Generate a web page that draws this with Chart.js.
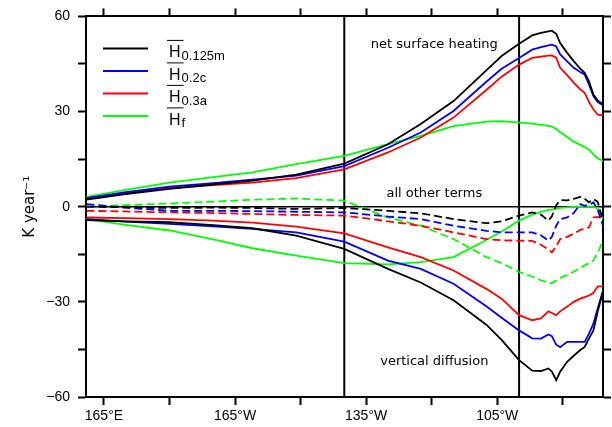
<!DOCTYPE html>
<html>
<head>
<meta charset="UTF-8">
<title>Equatorial heat budget terms</title>
<script src="https://cdn.jsdelivr.net/npm/chart.js"></script>
<style>
  body { margin: 0; background: #fff; }
</style>
</head>
<body>
<canvas id="budgetChart" width="612" height="427"></canvas>
<script>
// longitude, degrees east (0-360)
const lon = [161, 170, 180, 190, 199, 209, 220, 230, 237.5, 245, 252.5, 256, 260, 263, 265, 266.7, 267.5, 268.5, 269.4, 271, 272.5, 274, 275, 276, 277, 278, 279.2];

// net surface heating (K/yr)
const heatM = [2.2, 4.0, 5.6, 7.0, 8.2, 10.1, 13.6, 19.7, 26.1, 33.3, 43.0, 47.5, 51.4, 54.0, 54.8, 55.3, 55.5, 54.5, 51.6, 48.5, 45.9, 43.5, 42.2, 39.5, 35.4, 33.5, 32.3];
const heatC = [2.7, 4.6, 6.3, 7.4, 8.5, 9.8, 12.8, 18.6, 23.4, 30.2, 39.4, 43.5, 46.9, 49.5, 50.3, 50.9, 51.1, 50.5, 48.0, 45.8, 43.8, 42.5, 41.7, 38.5, 34.9, 33.0, 32.0];
const heatA = [2.7, 4.3, 5.9, 6.8, 7.6, 9.0, 11.8, 17.1, 21.8, 28.1, 36.8, 41.0, 44.8, 46.9, 47.3, 47.6, 47.7, 47.0, 43.8, 41.5, 39.1, 37.0, 35.9, 33.0, 30.7, 29.0, 28.8];
const heatF = [3.1, 5.3, 7.6, 9.3, 10.8, 13.4, 16.0, 19.7, 22.3, 25.4, 26.8, 27.0, 26.5, 26.2, 25.8, 25.5, 25.3, 24.5, 23.5, 22.0, 20.5, 19.5, 18.8, 18.0, 16.5, 15.2, 14.5];

// all other terms (dashed)
const otherM = [0.0, -0.2, -0.4, -0.3, -0.4, -0.7, -0.4, -1.3, -2.1, -3.9, -5.2, -4.6, -2.8, -1.8, -2.5, -4.4, -3.0, 0.5, 2.1, 2.0, 2.5, 3.1, 2.5, 1.4, 2.4, 1.5, -4.4];
const otherC = [0.8, -0.3, -1.3, -1.3, -1.4, -1.6, -1.8, -3.1, -3.9, -6.0, -7.6, -8.1, -8.1, -8.1, -9.0, -10.7, -9.5, -6.0, -3.9, -3.4, -2.0, 0.8, 0.3, 0.5, 1.4, -1.0, -6.0];
const otherA = [-1.3, -1.5, -1.8, -2.0, -2.3, -2.6, -2.8, -4.6, -6.0, -8.1, -10.2, -10.6, -10.7, -10.8, -12.0, -13.5, -14.4, -12.5, -10.2, -9.5, -8.5, -7.3, -7.0, -6.5, -3.4, -3.2, -3.9];
const otherF = [0.0, 0.5, 1.0, 1.6, 2.2, 2.6, 1.9, -3.4, -6.0, -10.2, -15.9, -17.8, -20.6, -22.0, -23.2, -24.0, -24.1, -23.3, -22.5, -21.5, -20.5, -19.3, -18.5, -17.8, -17.0, -14.5, -10.7];

// vertical diffusion
const diffM = [-4.2, -4.6, -4.9, -5.8, -6.8, -9.1, -13.3, -19.6, -23.9, -29.5, -37.2, -42.0, -48.4, -51.7, -51.8, -51.0, -52.0, -54.7, -52.0, -48.9, -47.0, -45.2, -44.2, -41.5, -39.0, -33.0, -26.9];
const diffC = [-3.9, -4.7, -5.4, -6.2, -7.0, -8.1, -11.0, -17.0, -19.6, -24.3, -31.4, -35.0, -39.0, -41.5, -41.6, -40.3, -40.8, -43.5, -44.3, -42.6, -42.6, -42.6, -42.6, -40.0, -36.9, -32.0, -26.4];
const diffA = [-3.4, -3.6, -3.9, -4.4, -5.0, -6.3, -8.4, -12.8, -15.9, -20.1, -25.9, -29.0, -34.2, -35.8, -35.2, -33.0, -33.5, -34.2, -33.0, -31.5, -30.0, -29.0, -28.5, -28.0, -27.2, -25.1, -25.1];
const diffF = [-3.9, -5.7, -7.5, -10.3, -13.1, -15.4, -17.8, -18.2, -17.5, -15.9, -10.5, -7.8, -4.4, -2.5, -1.6, -1.0, -0.9, -0.6, -0.4, -0.2, 0, 0, 0, 0, 0, -0.5, -4.0];

const runSub = ['0.125m', '0.2c', '0.3a', 'f'];
const runColors = ['#000000', '#0000ff', '#ff0000', '#00ff00'];

const xMin = 160.9, xMax = 279.2;
const xTickVals = [165, 180, 195, 210, 225, 240, 255, 270];
const xLabelVals = [165, 195, 225, 255];
const refLon = [220, 260];

const noteText = ['net surface heating', 'all other terms', 'vertical diffusion'];
const noteLon = 240.6;
const noteVal = [51.1, 4.2, -48.9];

function lonLabel(v) {
    return v <= 180 ? v + '°E' : (360 - v) + '°W';
}
function pts(vals) {
    return vals.map((v, i) => ({ x: lon[i], y: v }));
}

const datasets = [];
[[heatM, heatC, heatA, heatF], [otherM, otherC, otherA, otherF], [diffM, diffC, diffA, diffF]].forEach((group, g) => {
    group.forEach((vals, i) => {
        datasets.push({
            data: pts(vals),
            borderColor: runColors[i],
            borderWidth: 1.8,
            borderDash: g === 1 ? [8, 4] : [],
            pointRadius: 0,
            fill: false
        });
    });
});
refLon.forEach(x => {
    datasets.push({ data: [{ x: x, y: -60 }, { x: x, y: 60 }], borderColor: '#000', borderWidth: 2, pointRadius: 0 });
});
datasets.push({ data: [{ x: xMin, y: 0 }, { x: xMax, y: 0 }], borderColor: '#000', borderWidth: 1.5, pointRadius: 0 });

const tickFont = { family: 'Liberation Sans', size: 14 };
const frame = { display: true, color: '#000', width: 2 };
const outTicks = { drawOnChartArea: false, drawTicks: true, tickLength: 8, tickWidth: 2, tickColor: '#000' };

// legend with overlined H and subscripts, plus the text notes
const budgetText = {
    id: 'budgetText',
    afterDraw(chart) {
        const ctx = chart.ctx;
        const area = chart.chartArea;
        ctx.save();
        ctx.textAlign = 'left';
        ctx.textBaseline = 'alphabetic';
        runSub.forEach((sub, i) => {
            const y = area.top + 32 + i * 22.5;
            ctx.strokeStyle = runColors[i];
            ctx.lineWidth = 2;
            ctx.beginPath();
            ctx.moveTo(area.left + 17, y);
            ctx.lineTo(area.left + 62, y);
            ctx.stroke();

            const hx = area.left + 83;
            const base = y + 9;
            ctx.fillStyle = '#000';
            ctx.font = '16px "Liberation Sans"';
            ctx.fillText('H', hx, base);
            const hw = ctx.measureText('H').width;
            ctx.strokeStyle = '#000';
            ctx.lineWidth = 1;
            ctx.beginPath();
            ctx.moveTo(hx - 2, base - 17);
            ctx.lineTo(hx + hw + 3, base - 17);
            ctx.stroke();
            ctx.font = '13px "Liberation Sans"';
            ctx.fillText(sub, hx + hw + 1, base + 2.5);
        });

        const xs = chart.scales.x, ys = chart.scales.y;
        ctx.font = '13px "DejaVu Sans"';
        ctx.textAlign = 'center';
        ctx.textBaseline = 'middle';
        ctx.fillStyle = '#000';
        noteText.forEach((t, i) => {
            ctx.fillText(t, xs.getPixelForValue(noteLon), ys.getPixelForValue(noteVal[i]));
        });
        ctx.restore();
    }
};

new Chart(document.getElementById('budgetChart').getContext('2d'), {
    type: 'line',
    data: { datasets: datasets },
    plugins: [budgetText],
    options: {
        responsive: false,
        animation: false,
        devicePixelRatio: 1,
        layout: { padding: 0 },
        plugins: { legend: { display: false }, tooltip: { enabled: false } },
        scales: {
            x: {
                type: 'linear', position: 'bottom', min: xMin, max: xMax,
                afterBuildTicks: s => { s.ticks = xTickVals.map(v => ({ value: v })); },
                afterFit: s => { s.height = 30; },
                ticks: {
                    autoSkip: false, maxRotation: 0, padding: 3, color: '#000', font: tickFont,
                    callback: v => xLabelVals.includes(v) ? lonLabel(v) : ''
                },
                grid: outTicks,
                border: frame
            },
            xTop: {
                type: 'linear', position: 'top', min: xMin, max: xMax,
                afterBuildTicks: s => { s.ticks = xTickVals.map(v => ({ value: v })); },
                afterFit: s => { s.height = 15; },
                ticks: { display: false },
                grid: outTicks,
                border: frame
            },
            y: {
                type: 'linear', position: 'left', min: -60, max: 60,
                afterFit: s => { s.width = 86; },
                ticks: {
                    stepSize: 15, autoSkip: false, padding: 8, color: '#000', font: tickFont,
                    callback: v => v % 30 === 0 ? String(v).replace('-', '\u2212') : ''
                },
                title: {
                    display: true, text: 'K year\u207B\u00B9', color: '#000',
                    font: { family: 'DejaVu Sans', size: 15 },
                    padding: { top: 21, bottom: 0 }
                },
                grid: outTicks,
                border: frame
            },
            yRight: {
                type: 'linear', position: 'right', min: -60, max: 60,
                afterFit: s => { s.width = 9; },
                ticks: { display: false, stepSize: 15 },
                grid: outTicks,
                border: frame
            }
        }
    }
});
</script>
</body>
</html>
